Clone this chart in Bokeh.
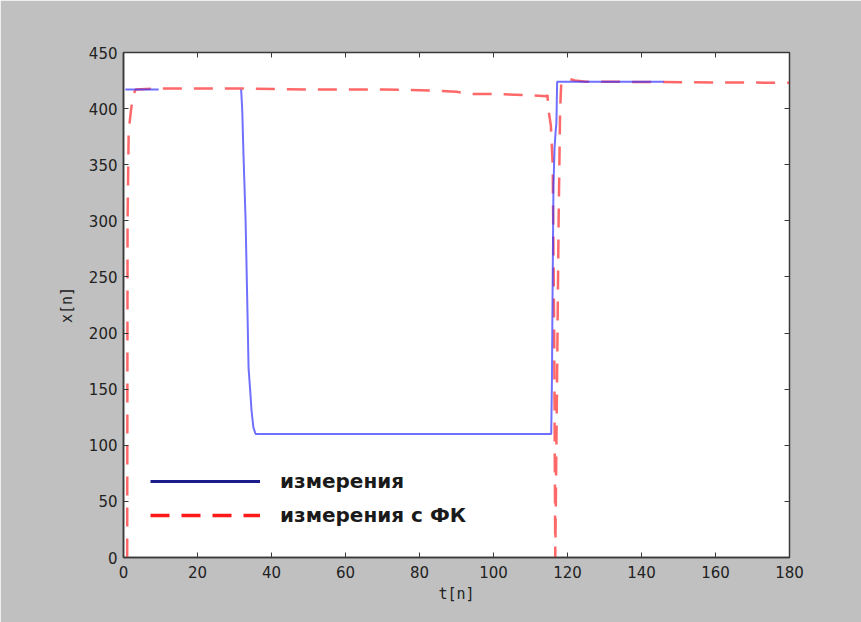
from bokeh.plotting import figure
from bokeh.models import LinearAxis, FixedTicker, Legend, LegendItem, ColumnDataSource, CustomLabelingPolicy
from bokeh.embed import file_html
from bokeh.resources import INLINE
import numpy as np

# measurements (blue)
meas_t = [0.5, 9.5, np.nan, 31.8, 32.1, 32.4, 33.0, 33.5, 33.8, 34.3, 34.6, 35.1, 35.7,
          115.6, 115.8, 115.9, 116.2, 116.5, 116.8, 117.0, 117.1, 117.2, 146.0]
meas_x = [417, 417, np.nan, 417, 398, 362, 300, 220, 169, 146, 131, 116, 110,
          110, 160, 207, 330, 365, 380, 387, 405, 424, 424]

# Kalman-filtered measurements (red dashed)
kf_t = [1.0, 1.1, 1.4, 2.0, 2.6, 3.3, 10, 30, 50, 70, 85, 90, 94, 100, 110, 114.2, 114.6,
        114.8, 115.5, 116.0, 116.4, 116.7, 117.6, 118.0, 118.3, 120.0, 122.0, 125.0, 180.0]
kf_x = [0, 300, 380, 398, 412, 417, 418, 418, 417, 417, 416, 415, 413, 413, 412, 411, 412,
        400, 385, 350, 200, 0, 300, 398, 422, 427, 425, 424, 423]

x_ticks = [0, 20, 40, 60, 80, 100, 120, 140, 160, 180]
y_ticks = [0, 50, 100, 150, 200, 250, 300, 350, 400, 450]
legend_labels = ["измерения", "измерения с ФК"]

GREY = "#c0c0c0"
AX = "#3a3a3a"

p = figure(width=861, height=622, x_range=(0, 180), y_range=(0, 450),
           output_backend="svg", toolbar_location=None,
           min_border_left=123, min_border_right=72, min_border_top=52, min_border_bottom=65)
p.border_fill_color = GREY
p.background_fill_color = "white"
p.outline_line_color = AX
p.outline_line_width = 1.5
p.xgrid.visible = False
p.ygrid.visible = False

for ax in (p.xaxis[0], p.yaxis[0]):
    ax.axis_line_color = AX
    ax.axis_line_width = 1.5
    ax.major_tick_in = 5
    ax.major_tick_out = 0
    ax.minor_tick_in = 0
    ax.minor_tick_out = 0
    ax.major_tick_line_color = AX
    ax.major_label_text_font = "DejaVu Sans"
    ax.major_label_text_font_size = "15px"
    ax.major_label_text_color = "#222222"
    ax.axis_label_text_font = "DejaVu Sans Mono"
    ax.axis_label_text_font_size = "15px"
    ax.axis_label_text_font_style = "normal"
    ax.axis_label_text_color = "#222222"

p.xaxis.ticker = FixedTicker(ticks=x_ticks)
p.yaxis.ticker = FixedTicker(ticks=y_ticks)
p.xaxis.axis_label = "t[n]"
p.yaxis.axis_label = "x[n]"
p.xaxis.major_label_standoff = 8
p.xaxis.axis_label_standoff = 4
p.yaxis.major_label_standoff = 6
p.yaxis.axis_label_standoff = 10

no_labels = """
for (const i of indices) { indices.unset(i) }
return indices
"""
top = LinearAxis(ticker=FixedTicker(ticks=x_ticks),
                 major_label_policy=CustomLabelingPolicy(code=no_labels),
                 major_tick_in=5, major_tick_out=0, minor_tick_in=0, minor_tick_out=0,
                 axis_line_color=AX, major_tick_line_color=AX)
right = LinearAxis(ticker=FixedTicker(ticks=y_ticks),
                   major_label_policy=CustomLabelingPolicy(code=no_labels),
                   major_tick_in=5, major_tick_out=0, minor_tick_in=0, minor_tick_out=0,
                   axis_line_color=AX, major_tick_line_color=AX)
p.add_layout(top, "above")
p.add_layout(right, "right")

p.line(kf_t, kf_x, line_color="#ff4d4d", line_width=2.5, line_alpha=0.85, line_dash="19 12")
p.line(meas_t, meas_x, line_color="#3333ff", line_width=2, line_alpha=0.7)

# legend-only renderers (a single missing point; only styling is shown in the legend)
empty = ColumnDataSource(data=dict(x=[np.nan], y=[np.nan]))
r_leg1 = p.line("x", "y", source=empty, line_color="#1c1c8c", line_width=3)
r_leg2 = p.line("x", "y", source=empty, line_color="#ff1a1a", line_width=3.5, line_dash="19 12")

legend = Legend(items=[LegendItem(label=legend_labels[0], renderers=[r_leg1]),
                       LegendItem(label=legend_labels[1], renderers=[r_leg2])],
                location=(27, 30), orientation="vertical",
                glyph_width=110, glyph_height=24, label_height=24, spacing=10,
                label_standoff=20, padding=0, margin=0,
                border_line_color=None, background_fill_alpha=0,
                label_text_font="DejaVu Sans", label_text_font_style="bold",
                label_text_font_size="20px", label_text_color="#1a1a1a")
p.add_layout(legend, "center")

open("out.html", "w").write(file_html(p, INLINE))
